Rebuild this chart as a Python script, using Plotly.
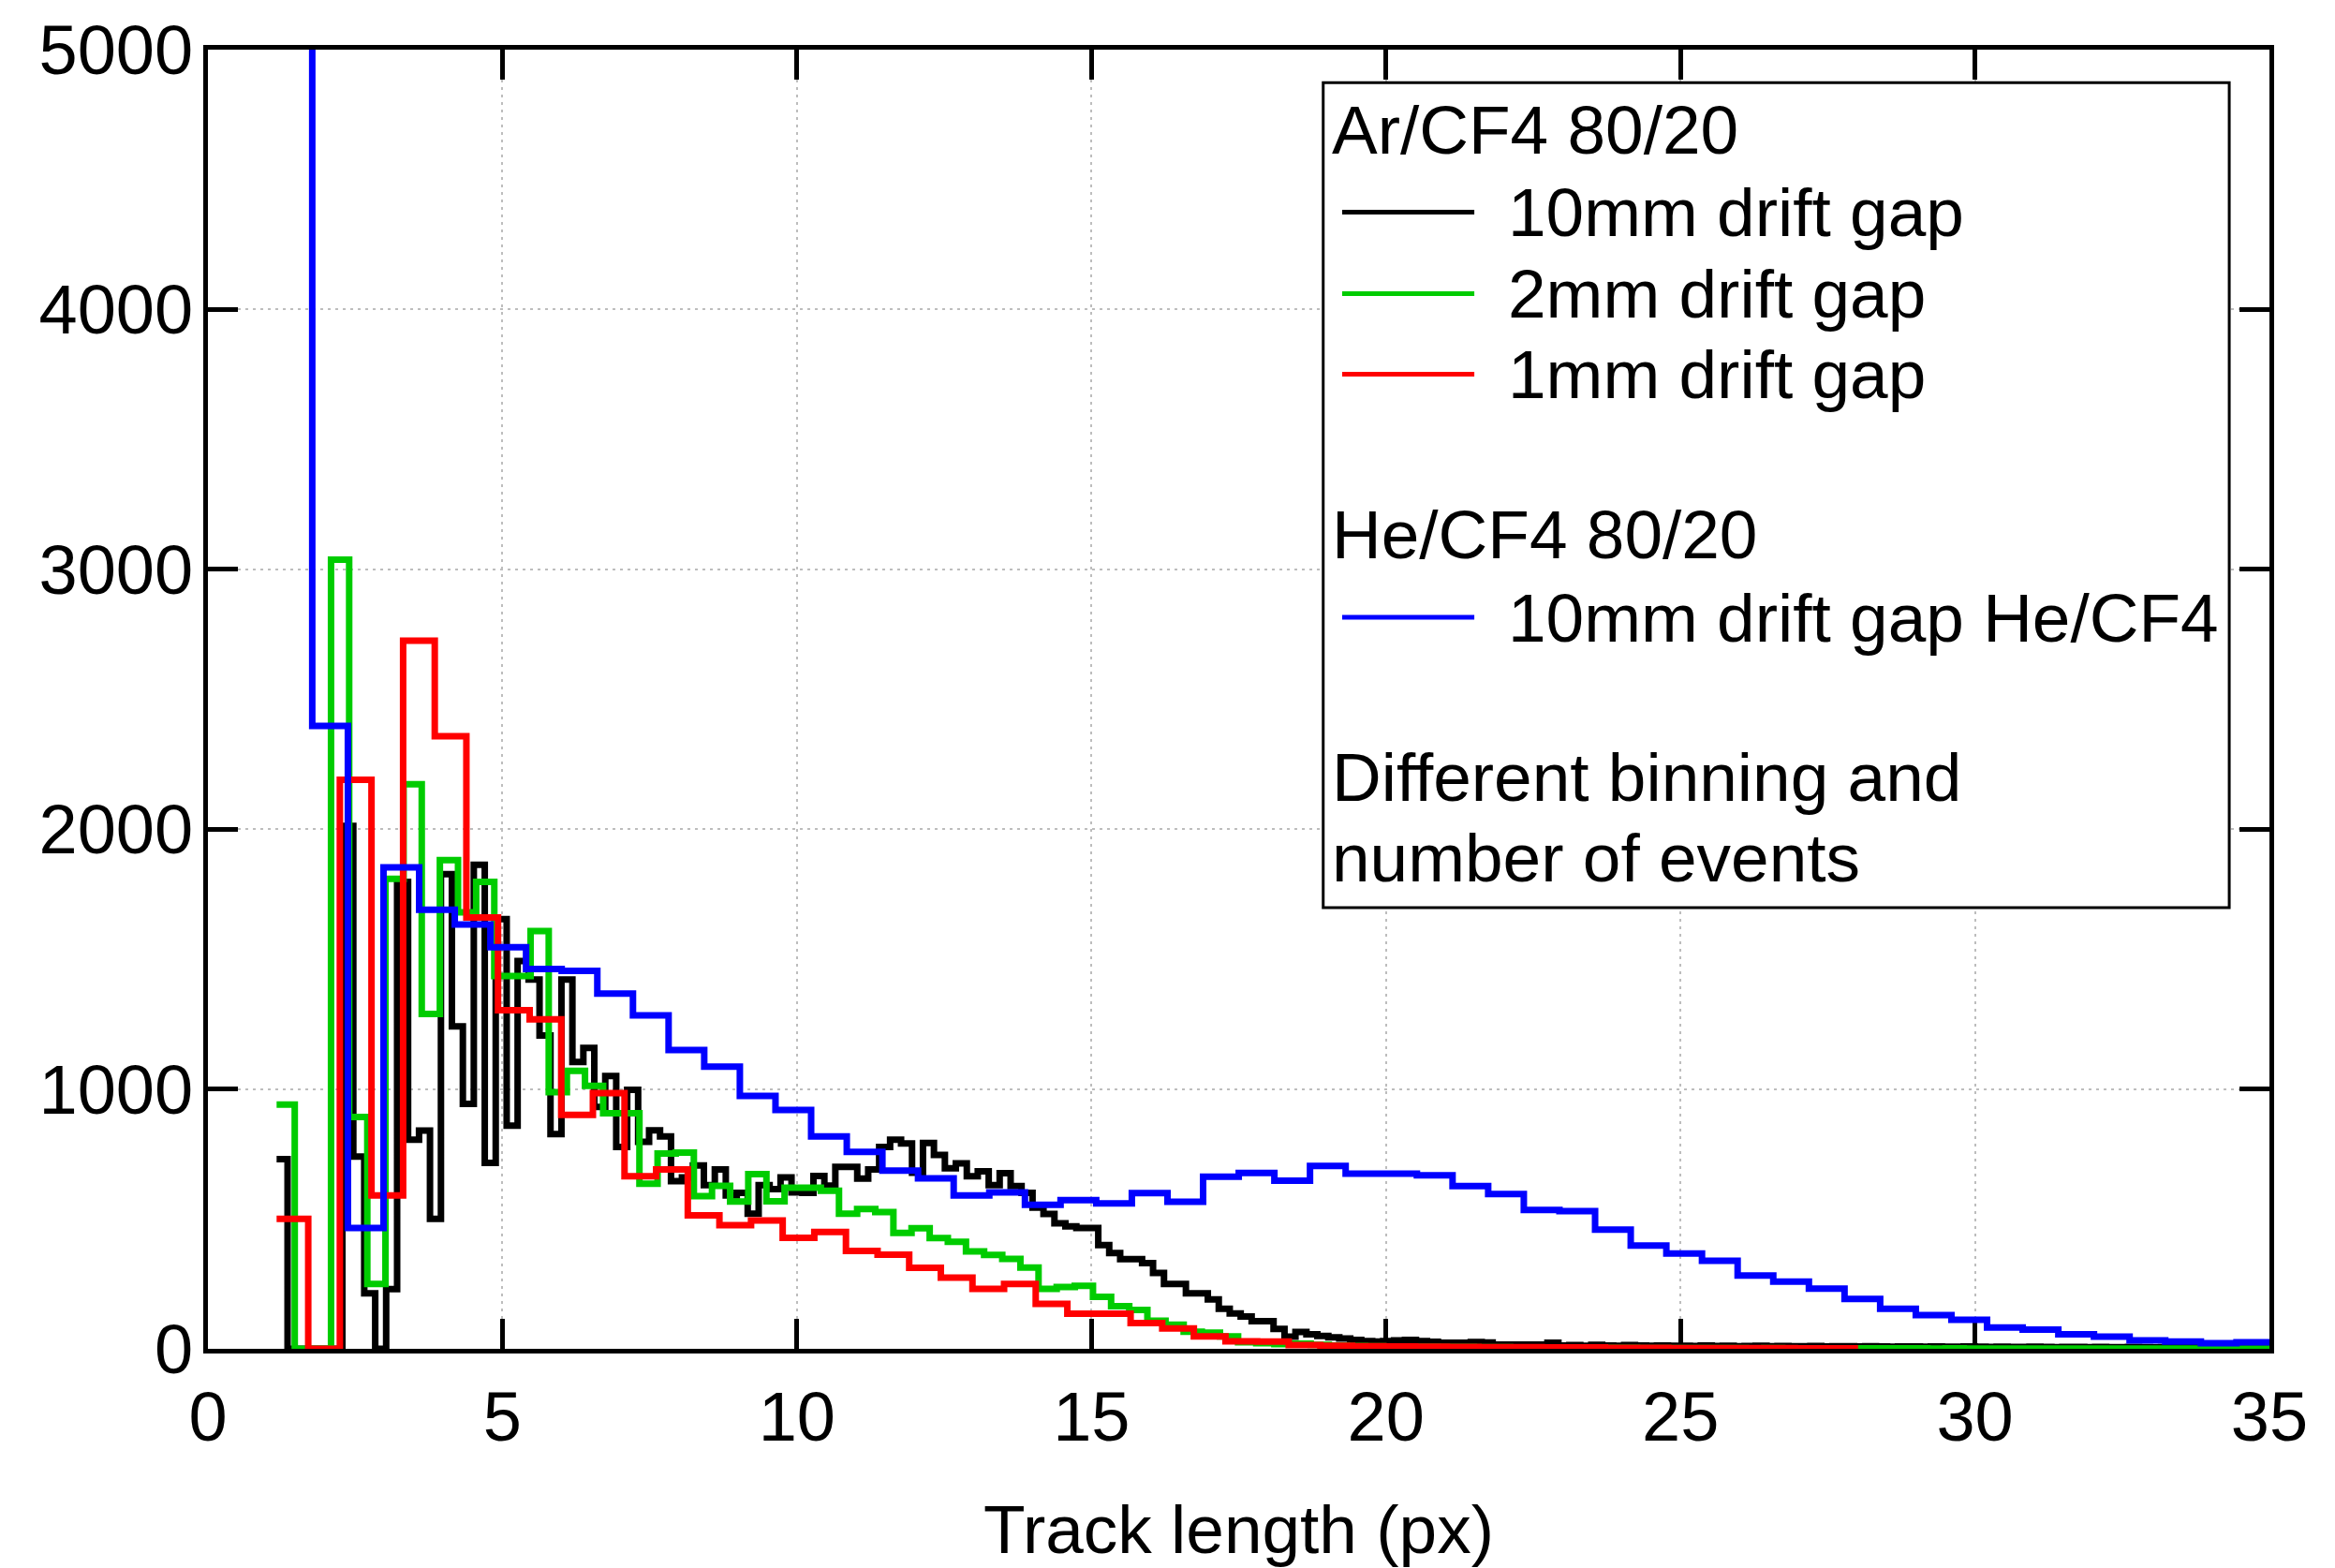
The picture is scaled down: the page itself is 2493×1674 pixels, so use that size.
import numpy as np
import plotly.graph_objects as go

# ---------------- data ----------------
X_START = 1.166          # common lower edge of all histograms (px)
BIN_BLACK = 0.186        # bin widths (px)
BIN_GREEN = 0.308
BIN_RED = 0.537
BIN_BLUE = 0.605

# Ar/CF4 80/20, 10mm drift gap
black_10mm = [
    730, 0, 0, 0, 0, 0, 2012, 740, 214, 0, 230, 1797, 805, 840, 500, 1827, 1241, 943, 1863, 716,
    1654, 859, 1492, 1421, 1206, 826, 1421, 1104, 1158, 931, 1050, 777, 997, 797, 841, 817, 645, 660,
    706, 630, 690, 590, 600, 520, 630, 615, 660, 602, 600, 665, 628, 700, 700, 655, 690, 777, 805,
    790, 678, 792, 746, 695, 714, 664, 683, 630, 676, 626, 600, 543, 519, 483, 471, 465, 465, 399,
    369, 345, 345, 330, 292, 250, 250, 214, 214, 190, 154, 136, 124, 106, 106, 77, 47, 65, 56, 50,
    44, 40, 34, 30, 28, 30, 32, 34, 30, 27, 23, 23, 23, 26, 24, 16, 16, 16, 16, 16, 23,
    13, 14, 12, 15, 13, 12, 14, 13, 12, 13, 12,
    12, 11, 13, 11, 12, 10, 11, 12, 10, 11, 10,
    10, 11, 9, 10, 10, 9, 10, 9, 8, 9, 9, 8, 9, 8, 8, 9,
    8, 7, 8, 7, 7, 8, 7, 6, 7, 7, 6, 7, 6, 6, 7, 6, 5, 6, 6, 5, 6, 5, 5, 6, 5, 5, 5,
]

# Ar/CF4 80/20, 2mm drift gap
green_2mm = [
    940, 0, 0, 3037, 892, 250, 1809, 2173, 1289, 1881, 1680, 1797, 1435, 1435, 1608, 988, 1070,
    1012, 907, 907, 635, 752, 755, 588, 627, 567, 672, 568, 620, 620, 608, 520, 538, 526, 446, 464,
    426, 412, 375, 361, 346, 313, 231, 238, 242, 200, 164, 150, 108, 93, 66, 62, 48, 25,
    22, 18, 20, 15, 13, 11, 10, 9, 8, 8, 7, 7, 6, 6, 5, 5, 5, 4, 4, 4, 4, 3, 3, 3, 3, 3, 3, 2,
    3, 2, 2, 2, 2, 2, 2, 2, 2, 1, 2, 1, 1, 1, 1, 1, 1, 1, 1, 1, 1, 1, 1, 1, 1, 1, 1, 1,
]

# Ar/CF4 80/20, 1mm drift gap
red_1mm = [
    500, 0, 2190, 590, 2725, 2358, 1660, 1303, 1268, 900, 984, 664, 690, 514, 476, 494, 427, 450,
    377, 362, 312, 274, 231, 250, 173, 135, 135, 99, 78, 48, 29, 28, 14, 12, 10, 9, 8, 7, 6, 6,
    5, 5, 4, 4, 3, 3, 3, 3, 2, 2,
]

# He/CF4 80/20, 10mm drift gap (first bin far above the axis range)
blue_he_10mm = [
    9000, 2397, 465, 1853, 1690, 1633, 1546, 1462, 1455, 1367, 1283, 1150, 1086, 973, 919, 817,
    758, 686, 656, 590, 602, 554, 572, 560, 599, 566, 662, 677, 647, 704, 674, 674, 668, 626, 596,
    534, 530, 459, 397, 367, 339, 282, 259, 232, 192, 154, 130, 112, 82, 74, 56, 47, 32, 28, 22, 25,
]

X_TICKS = [0, 5, 10, 15, 20, 25, 30, 35]
Y_TICKS = [0, 1000, 2000, 3000, 4000, 5000]

LEGEND_ENTRIES = ["10mm drift gap", "2mm drift gap", "1mm drift gap", "10mm drift gap He/CF4"]
LEGEND_HEADERS = ["Ar/CF4 80/20", "He/CF4 80/20"]
LEGEND_NOTE = ["Different binning and", "number of events"]

# ---------------- figure ----------------
FONT = "Liberation Sans, Arial, Helvetica, sans-serif"
FS_TICK = 74
FS_TEXT = 73
COLORS = ["#000000", "#00cc00", "#ff0000", "#0000ff"]
series = [
    (black_10mm, BIN_BLACK),
    (green_2mm, BIN_GREEN),
    (red_1mm, BIN_RED),
    (blue_he_10mm, BIN_BLUE),
]

fig = go.Figure()
for (vals, width), color, name in zip(series, COLORS, LEGEND_ENTRIES):
    edges = X_START + width * np.arange(len(vals) + 1)
    yv = list(vals) + [vals[-1]]
    fig.add_trace(go.Scatter(
        x=edges, y=yv, mode="lines", name=name,
        line=dict(color=color, width=7, shape="hv"),
        hoverinfo="skip",
    ))

axis_common = dict(
    showline=True, linewidth=5, linecolor="black", mirror="allticks",
    ticks="inside", ticklen=32, tickwidth=5, tickcolor="black",
    showgrid=True, gridcolor="#bdbdbd", gridwidth=2, griddash="3px,5px",
    zeroline=False, layer="below traces",
    tickfont=dict(family=FONT, size=FS_TICK, color="black"),
)

fig.update_xaxes(range=[0, 35], tickvals=X_TICKS, ticklabelstandoff=4,
                 title=dict(text="Track length (px)", font=dict(family=FONT, size=FS_TEXT, color="black"),
                            standoff=56),
                 **axis_common)
fig.update_yaxes(range=[0, 5000], tickvals=Y_TICKS, ticklabelstandoff=-4, **axis_common)

# ---- legend box drawn manually (paper coords relative to plot area) ----
shapes = [dict(type="rect", xref="paper", yref="paper", x0=0.5410, x1=0.9805, y0=0.3395, y1=0.9745,
               line=dict(color="black", width=3), fillcolor="white", layer="above")]
sample_y = [0.8750, 0.8122, 0.7502, 0.5630]
for yy, color in zip(sample_y, COLORS):
    shapes.append(dict(type="line", xref="paper", yref="paper", x0=0.5502, x1=0.6143, y0=yy, y1=yy,
                       line=dict(color=color, width=5), layer="above"))

annotations = []
def txt(x, y, s):
    annotations.append(dict(xref="paper", yref="paper", x=x, y=y, text=s, showarrow=False,
                            xanchor="left", yanchor="middle",
                            font=dict(family=FONT, size=FS_TEXT, color="black")))

txt(0.5445, 0.9380, LEGEND_HEADERS[0])
for yy, s in zip(sample_y, LEGEND_ENTRIES):
    txt(0.6295, yy, s)
txt(0.5445, 0.6268, LEGEND_HEADERS[1])
txt(0.5445, 0.4400, LEGEND_NOTE[0])
txt(0.5445, 0.3785, LEGEND_NOTE[1])

fig.update_layout(
    width=2493, height=1674, autosize=False,
    margin=dict(l=222, r=70, t=46, b=234, pad=0),
    plot_bgcolor="white", paper_bgcolor="white",
    showlegend=False,
    font=dict(family=FONT, size=FS_TEXT, color="black"),
    shapes=shapes, annotations=annotations,
)

fig.write_html("out.html")
